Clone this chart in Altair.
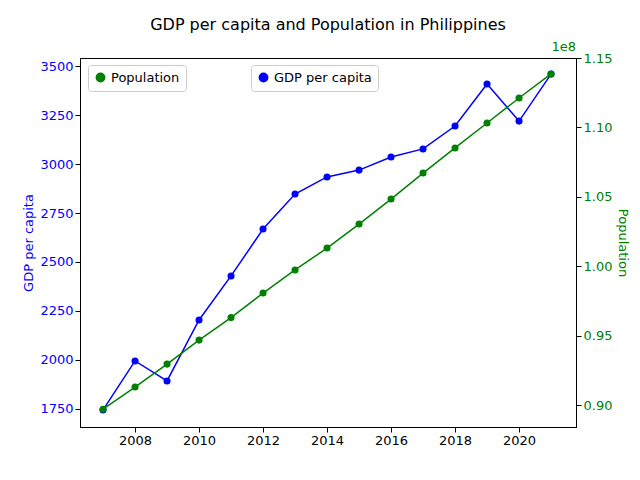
import altair as alt
import pandas as pd

years = list(range(2007, 2022))
gdp_per_capita = [1745, 1995, 1893, 2204, 2429, 2668, 2847, 2934, 2969, 3036, 3077, 3194, 3408, 3219, 3459]
# population in units of 1e8
population = [0.897, 0.913, 0.9295, 0.9468, 0.963, 0.9807, 0.9973, 1.0131, 1.0304, 1.0484,
              1.0671, 1.0852, 1.1032, 1.1212, 1.1385]

df = pd.DataFrame({"year": years, "gdp": gdp_per_capita, "pop": population,
                   "s_gdp": "GDP per capita", "s_pop": "Population"})

font = "DejaVu Sans"
x = alt.X("year:Q", title=None, scale=alt.Scale(domain=[2006.28, 2021.78], nice=False, zero=False),
          axis=alt.Axis(values=[2008, 2010, 2012, 2014, 2016, 2018, 2020], format="d", grid=False,
                        labelFontSize=13, labelColor="black", tickColor="black", domainColor="black"))


def legend(xpos):
    return alt.Legend(title=None, orient="none", legendX=xpos, legendY=7, symbolType="circle",
                      symbolSize=70, labelFontSize=13, labelFont=font, strokeColor="#cccccc",
                      cornerRadius=3, padding=6, fillColor="white")


base = alt.Chart(df)

gdp = base.mark_line(point=alt.OverlayMarkDef(size=50, filled=True), strokeWidth=1.5).encode(
    x=x,
    y=alt.Y("gdp:Q", title="GDP per capita",
            scale=alt.Scale(domain=[1658, 3541], nice=False, zero=False),
            axis=alt.Axis(values=[1750, 2000, 2250, 2500, 2750, 3000, 3250, 3500], format="d",
                          grid=False, titleColor="blue", labelColor="blue", titleFontSize=13,
                          labelFontSize=13, titleFontWeight="normal", tickColor="black",
                          domainColor="black")),
    color=alt.Color("s_gdp:N", scale=alt.Scale(domain=["GDP per capita"], range=["blue"]),
                    legend=legend(171)),
)

pop = base.mark_line(point=alt.OverlayMarkDef(size=50, filled=True), strokeWidth=1.5).encode(
    x=x,
    y=alt.Y("pop:Q", title="Population",
            scale=alt.Scale(domain=[0.8842, 1.15], nice=False, zero=False),
            axis=alt.Axis(orient="right", values=[0.90, 0.95, 1.00, 1.05, 1.10, 1.15], format=".2f",
                          grid=False, titleColor="green", labelColor="green", titleFontSize=13,
                          labelFontSize=13, titleFontWeight="normal", tickColor="black",
                          domainColor="black")),
    color=alt.Color("s_pop:N", scale=alt.Scale(domain=["Population"], range=["green"]),
                    legend=legend(8)),
)

exp = alt.Chart(pd.DataFrame({"t": ["1e8"]})).mark_text(
    color="green", fontSize=13, font=font, align="right", baseline="bottom"
).encode(text="t:N", x=alt.value(496), y=alt.value(-4))

chart = alt.layer(gdp, pop, exp).resolve_scale(y="independent", color="independent").properties(
    width=496, height=369,
    title=alt.TitleParams("GDP per capita and Population in Philippines", fontSize=16,
                          font=font, fontWeight="normal", offset=8),
    autosize=alt.AutoSizeParams(type="none"),
    padding={"left": 72, "top": 50, "right": 56, "bottom": 45},
).configure_view(stroke="black").configure_axis(labelFont=font, titleFont=font)

chart.save("out.html", embed_options={"renderer": "svg", "actions": False})
